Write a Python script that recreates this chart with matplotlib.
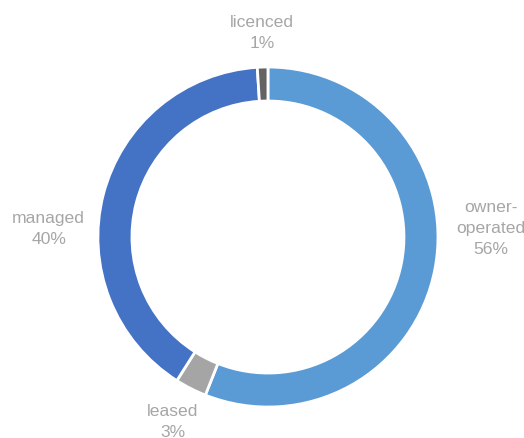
import matplotlib.pyplot as plt

plt.rcParams['font.family'] = ['Liberation Sans', 'DejaVu Sans']

labels = ["owner-\noperated", "leased", "managed", "licenced"]
shares = [56, 3, 40, 1]
colors = ["#5B9BD5", "#A5A5A5", "#4472C4", "#636363"]

# label centres in data units (radius = 1)
label_pos = [(1.31, 0.05), (-0.56, -1.09), (-1.29, 0.05), (-0.035, 1.2)]

fig = plt.figure(figsize=(5.24, 4.38), dpi=100)
ax = fig.add_axes([0, 0, 1, 1])
ax.pie(shares, colors=colors, startangle=90, counterclock=False, radius=1,
       wedgeprops=dict(width=0.2, edgecolor="white", linewidth=2))

for lab, val, (x, y) in zip(labels, shares, label_pos):
    ax.text(x, y, f"{lab}\n{val}%", ha="center", va="center",
            fontsize=12.6, color="#A6A6A6", linespacing=1.5)

ax.set_xlim(-1.576, 1.506)
ax.set_ylim(-1.182, 1.394)
ax.set_aspect("equal")
ax.axis("off")

fig.savefig("out.png", dpi=100)
